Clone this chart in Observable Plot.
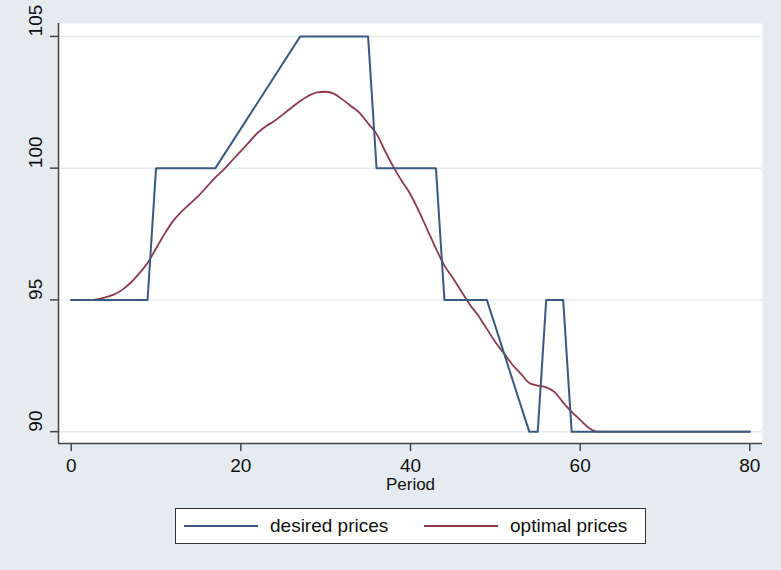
<!DOCTYPE html>
<html>
<head>
<meta charset="utf-8">
<script src="https://cdn.jsdelivr.net/npm/d3@7"></script>
<script src="https://cdn.jsdelivr.net/npm/@observablehq/plot@0.6"></script>
<style>
  html, body { margin: 0; padding: 0; background: #e5ebef; }
  #wrap { position: relative; width: 781px; height: 570px; background: #e5ebef; font-family: "Liberation Sans", Arial, sans-serif; }
  #legend { position: absolute; left: 175px; top: 508px; width: 471px; height: 36px; box-sizing: border-box;
            border: 1.5px solid #333; background: #fff; }
  .item { position: absolute; top: 0; height: 33px; display: flex; align-items: center; font-size: 19px; color: #111; }
  .swatch { display: inline-block; width: 74px; height: 0; border-top: 2px solid; margin-right: 12px; }
</style>
</head>
<body>
<div id="wrap"></div>
<script>
// Data
const desiredPeriod = [0, 9, 10, 17, 27, 35, 36, 43, 44, 49, 54, 55, 56, 58, 59, 80];
const desiredPrice  = [95, 95, 100, 100, 105, 105, 100, 100, 95, 95, 90, 90, 95, 95, 90, 90];

const optimalPeriod = [0,1,2,3,4,5,6,7,8,9,10,11,12,13,14,15,16,17,18,19,20,21,22,23,24,25,26,27,28,29,30,31,32,33,34,35,36,37,38,39,40,41,42,43,44,45,46,47,48,49,50,51,52,53,54,55,56,57,58,59,60,61,62,80];
const optimalPrice  = [95,95,95,95.02,95.1,95.2,95.38,95.65,96.0,96.4,96.95,97.5,97.99,98.35,98.65,98.95,99.3,99.65,99.95,100.3,100.65,101.0,101.35,101.6,101.8,102.05,102.3,102.55,102.75,102.88,102.9,102.82,102.6,102.35,102.1,101.7,101.3,100.65,100.04,99.5,99.0,98.36,97.65,96.95,96.3,95.83,95.32,94.82,94.4,93.9,93.4,92.98,92.55,92.2,91.85,91.75,91.68,91.5,91.1,90.75,90.45,90.15,90.0,90.0];

const xTicks = [0, 20, 40, 60, 80];
const yTicks = [90, 95, 100, 105];
const xDomain = [-1.5, 81.5];
const yDomain = [89.55, 105.49];
const seriesNames = ["desired prices", "optimal prices"];
const seriesColors = ["#3b5a7f", "#8e3a4a"];

const desired = desiredPeriod.map((p, i) => ({period: p, price: desiredPrice[i]}));
const optimal = optimalPeriod.map((p, i) => ({period: p, price: optimalPrice[i]}));

const chart = Plot.plot({
  width: 781,
  height: 500,
  marginLeft: 58,
  marginRight: 19,
  marginTop: 23,
  marginBottom: 57,
  style: { background: "transparent", fontFamily: "Liberation Sans, Arial, sans-serif", fontSize: "19px", color: "#111" },
  x: { domain: xDomain },
  y: { domain: yDomain },
  marks: [
    Plot.frame({ fill: "white", stroke: null }),
    Plot.ruleY(yTicks, { stroke: "#e6e9ec", strokeWidth: 1.5 }),
    Plot.line(optimal, { x: "period", y: "price", stroke: seriesColors[1], strokeWidth: 1.8, curve: "monotone-x" }),
    Plot.line(desired, { x: "period", y: "price", stroke: seriesColors[0], strokeWidth: 2 }),
    Plot.axisX({ ticks: xTicks, tickSize: 8, tickPadding: 7, stroke: "#444", strokeWidth: 1.5, fontSize: 19, label: null }),
    Plot.axisY({ ticks: yTicks, tickSize: 8, tickFormat: () => "", stroke: "#444", strokeWidth: 1.5, label: null }),
    Plot.text(yTicks, { y: d => d, frameAnchor: "left", dx: -23, rotate: -90, text: d => String(d), fontSize: 19, fill: "#111" }),
    Plot.ruleX([xDomain[0]], { stroke: "#444", strokeWidth: 1.5 }),
    Plot.ruleY([yDomain[0]], { stroke: "#444", strokeWidth: 1.5 }),
    Plot.text(["Period"], { frameAnchor: "bottom", dy: 46, text: d => d, fontSize: 17, fill: "#111" })
  ]
});

const wrap = document.getElementById("wrap");
wrap.appendChild(chart);

const legend = document.createElement("div");
legend.id = "legend";
const lefts = [8, 248];
seriesNames.forEach((name, i) => {
  const item = document.createElement("div");
  item.className = "item";
  item.style.left = lefts[i] + "px";
  const sw = document.createElement("span");
  sw.className = "swatch";
  sw.style.borderTopColor = seriesColors[i];
  item.appendChild(sw);
  item.appendChild(document.createTextNode(name));
  legend.appendChild(item);
});
wrap.appendChild(legend);
</script>
</body>
</html>
